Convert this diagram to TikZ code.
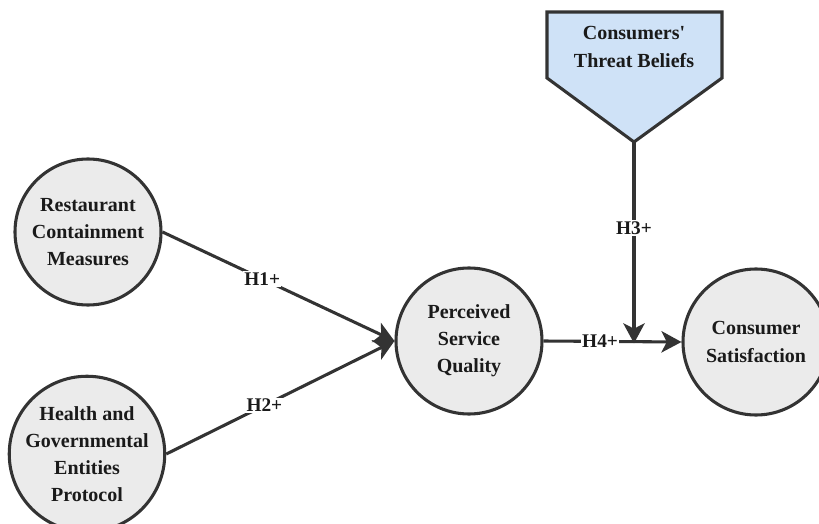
\documentclass[tikz,border=0pt]{standalone}
\usepackage{fontspec}
\newfontfamily\tnr{Liberation Serif}[BoldFont={Liberation Serif Bold}]
\usetikzlibrary{arrows.meta}
\definecolor{nodefill}{HTML}{EBEBEB}
\definecolor{edgecol}{HTML}{333333}
\definecolor{bluefill}{HTML}{CFE2F7}
\definecolor{txt}{HTML}{1A1A1A}
\begin{document}
\begin{tikzpicture}[x=0.75pt,y=-0.75pt,
  construct/.style={circle,draw=edgecol,fill=nodefill,line width=2.3pt,
    minimum size=109.5pt,inner sep=0pt,align=center,text=txt,
    font=\tnr\fontsize{15}{20.3}\selectfont\bfseries},
  hyplabel/.style={fill=white,inner sep=1pt,text=txt,
    font=\tnr\fontsize{14.5}{17}\selectfont\bfseries},
  link/.style={draw=edgecol,line width=2.3pt,
    -{Stealth[length=15pt,width=16pt,inset=4pt]}}]
\useasboundingbox (0,0) rectangle (819,524);
\begin{scope}
\clip (0,0) rectangle (819,524);
% moderator pentagon
\draw[draw=edgecol,fill=bluefill,line width=2.3pt,line join=miter]
  (547,12) -- (722,12) -- (722,78) -- (634,142) -- (547,78) -- cycle;
\node[text=txt,align=center,font=\tnr\fontsize{15}{20.3}\selectfont\bfseries] (ctb) at (634,47) {Consumers'\\Threat Beliefs};
\coordinate (tip) at (634,142);
\coordinate (join) at (634,342);
% constructs
\node[construct] (rcm) at (88,232) {Restaurant\\Containment\\Measures};
\node[construct] (hgep) at (87,454) {Health and\\Governmental\\Entities\\Protocol};
\node[construct] (psq) at (469,341) {Perceived\\Service\\Quality};
\node[construct] (cs) at (756,342) {Consumer\\Satisfaction};
% links
\draw[link] (rcm.east) -- node[hyplabel,pos=0.43]{H1+} (psq.west);
\draw[link] (hgep.east) -- node[hyplabel,pos=0.43]{H2+} (psq.west);
\draw[link] (psq.east) -- node[hyplabel,pos=0.41]{H4+} (cs.west);
\draw[link,shorten >=-1pt] (tip) -- node[hyplabel,pos=0.43]{H3+} (join);
\end{scope}
\end{tikzpicture}
\end{document}
